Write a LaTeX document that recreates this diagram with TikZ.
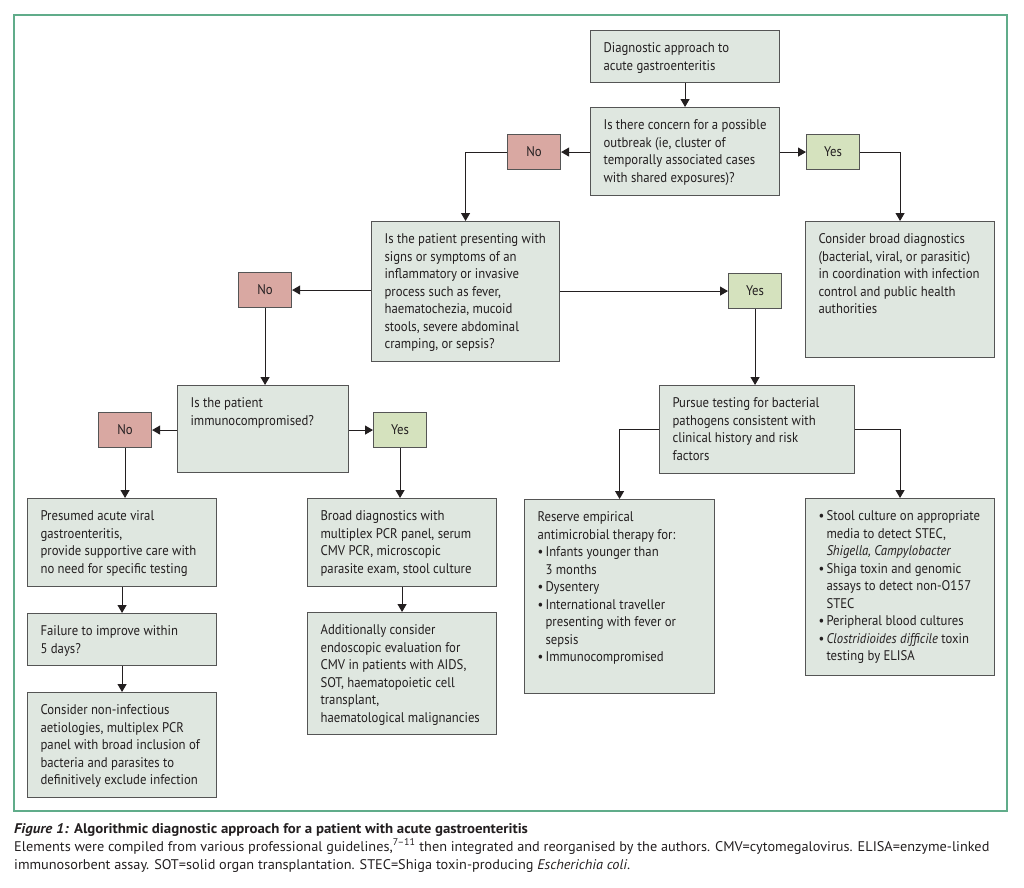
\documentclass[tikz,border=0pt]{standalone}
\usepackage{fontspec}
\setmainfont{PT Sans}[FakeStretch=0.91]
\newfontfamily\capfont{PT Sans}[FakeStretch=1.02]
\usetikzlibrary{arrows.meta,calc}
\definecolor{boxfill}{RGB}{223,231,224}
\definecolor{nofill}{RGB}{217,168,162}
\definecolor{yesfill}{RGB}{213,226,190}
\definecolor{boxline}{RGB}{85,85,85}
\definecolor{framegreen}{RGB}{96,172,138}
\definecolor{txt}{RGB}{35,31,32}
\tikzset{
  gbox/.style={draw=boxline, fill=boxfill, line width=1.1pt, inner xsep=13pt, inner ysep=10pt, anchor=north west, text=txt},
  nobox/.style={draw=boxline, fill=nofill, line width=1.1pt, minimum width=53pt, minimum height=35pt, inner sep=0pt, anchor=north west, text=txt, font=\fontsize{14}{16}\selectfont},
  yesbox/.style={nobox, fill=yesfill},
  conn/.style={draw=txt, line width=1pt, -{Triangle[length=8pt,width=9pt]}},
}
\newcommand\bx[6]{%
  \pgfmathsetmacro\bxw{#4-#2-26}%
  \pgfmathsetmacro\bxh{#5-#3-20}%
  \node[gbox] (#1) at (#2,#3) {\parbox[c][\bxh pt][t]{\bxw pt}{\fontsize{14}{17.5}\selectfont\raggedright\strut #6}};}
\newcommand\fitm{\hangindent=8pt\hangafter=1\makebox[8pt][l]{•}}
\newcommand\itm{\par\hangindent=8pt\hangafter=1\noindent\strut\makebox[8pt][l]{•}}
\begin{document}
\begin{tikzpicture}[x=1pt,y=-1pt]
\useasboundingbox (0,0) rectangle (1024,887);
\draw[framegreen, line width=1.5pt] (14,15) rectangle (1007,811);

\bx{d1}{590}{30}{779}{82}{Diagnostic approach to\\acute gastroenteritis}
\bx{d2}{590}{107}{779}{195}{Is there concern for a possible\\outbreak (ie, cluster of\\temporally associated cases\\with shared exposures)?}
\node[nobox] (no1) at (507,134) {No};
\node[yesbox] (yes1) at (806,134) {Yes};
\bx{broad1}{805}{221}{994}{357}{Consider broad diagnostics\\(bacterial, viral, or parasitic)\\in coordination with infection\\control and public health\\authorities}
\bx{infl}{371}{221}{559}{361}{Is the patient presenting with\\signs or symptoms of an\\inflammatory or invasive\\process such as fever,\\haematochezia, mucoid\\stools, severe abdominal\\cramping, or sepsis?}
\node[nobox] (nom) at (238,272) {No};
\node[yesbox] (yesm) at (728,273) {Yes};
\bx{immuno}{177}{385}{348}{472}{Is the patient\\immunocompromised?}
\node[nobox] (nob) at (98,412) {No};
\node[yesbox] (yesb) at (373,412) {Yes};
\bx{pursue}{659}{385}{854}{473}{Pursue testing for bacterial\\pathogens consistent with\\clinical history and risk\\factors}
\bx{presumed}{27}{498}{216}{586}{Presumed acute viral\\gastroenteritis,\\provide supportive care with\\no need for specific testing}
\bx{broadd}{307}{498}{496}{586}{Broad diagnostics with\\multiplex PCR panel, serum\\CMV PCR, microscopic\\parasite exam, stool culture}
\bx{failure}{27}{613}{216}{665}{Failure to improve within\\5 days?}
\bx{noninf}{27}{692}{216}{797}{Consider non-infectious\\aetiologies, multiplex PCR\\panel with broad inclusion of\\bacteria and parasites to\\definitively exclude infection}
\bx{addl}{307}{612}{496}{734}{Additionally consider\\endoscopic evaluation for\\CMV in patients with AIDS,\\SOT, haematopoietic cell\\transplant,\\haematological malignancies}
\bx{reserve}{524}{499}{714}{693}{Reserve empirical\\antimicrobial therapy for:\itm Infants younger than\newline 3 months\itm Dysentery\itm International traveller\newline presenting with fever or\newline sepsis\itm Immunocompromised}
\bx{stool}{805}{498}{994}{675}{\fitm Stool culture on appropriate\newline media to detect STEC,\newline \textit{Shigella, Campylobacter}\itm Shiga toxin and genomic\newline assays to detect non-O157\newline STEC\itm Peripheral blood cultures\itm \textit{Clostridioides difficile} toxin\newline testing by ELISA}

\draw[conn] (d1) -- (d2);
\draw[conn] (d2.west |- no1.east) -- (no1.east);
\draw[conn] (d2.east |- yes1.west) -- (yes1.west);
\draw[conn] (no1.west) -| (infl.north);
\draw[conn] (yes1.east) -| (broad1.north);
\draw[conn] (infl.west |- nom.east) -- (nom.east);
\draw[conn] (infl.east |- yesm.west) -- (yesm.west);
\draw[conn] (nom.south) -- (nom.south |- immuno.north);
\draw[conn] (yesm.south) -- (yesm.south |- pursue.north);
\draw[conn] (immuno.west |- nob.east) -- (nob.east);
\draw[conn] (immuno.east |- yesb.west) -- (yesb.west);
\draw[conn] (nob.south) -- (nob.south |- presumed.north);
\draw[conn] (yesb.south) -- (yesb.south |- broadd.north);
\draw[conn] (presumed) -- (failure);
\draw[conn] (failure) -- (noninf);
\draw[conn] (broadd) -- (addl);
\draw[conn] (pursue.west) -| (reserve.north);
\draw[conn] (pursue.east) -| (stool.north);

\node[anchor=base west, inner sep=0pt, text=txt] (cap) at (14,833) {\parbox[t]{1000pt}{\capfont\fontsize{14}{18}\selectfont
\scalebox{1.04}[1]{\mbox{\textbf{\textit{Figure 1:} Algorithmic diagnostic approach for a patient with acute gastroenteritis}}}\\
\mbox{Elements were compiled from various professional guidelines,\textsuperscript{7–11} then integrated and reorganised by the authors. CMV=cytomegalovirus. ELISA=enzyme-linked}\\
\mbox{immunosorbent assay. SOT=solid organ transplantation. STEC=Shiga toxin-producing \textit{Escherichia coli}.}}};
\end{tikzpicture}
\end{document}
